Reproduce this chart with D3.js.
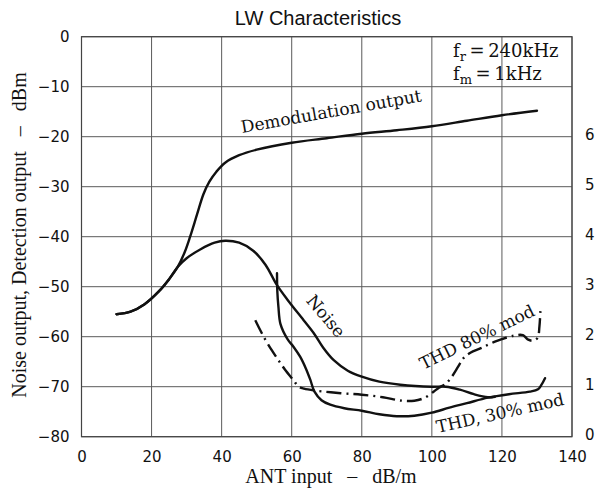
<!DOCTYPE html>
<html>
<head>
<meta charset="utf-8">
<script src="https://cdn.jsdelivr.net/npm/d3@7"></script>
<style>
  body { margin: 0; background: #fff; }
  #chart { width: 597px; height: 494px; }
</style>
</head>
<body>
<div id="chart"></div>
<script>
// tick values
const xTicks = [0, 20, 40, 60, 80, 100, 120, 140];
const yTicks = [0, -10, -20, -30, -40, -50, -60, -70, -80];
const thdTicks = [0, 1, 2, 3, 4, 5, 6];

// curves, [ANT input dB/m, output dBm]
const demodulation = [
  [10, -55.5], [14, -55], [18, -53.5], [22, -51], [25, -48.5], [27.5, -46],
  [29.5, -43], [31, -40], [33, -35.5], [34.8, -31.5], [36.5, -29], [38.5, -27],
  [41, -25.2], [45, -23.7], [50, -22.6], [60, -21.2], [70, -20.3], [80, -19.4],
  [90, -18.7], [100, -17.9], [110, -16.8], [120, -15.7], [130, -14.8]
];
const noise = [
  [10, -55.5], [14, -55], [18, -53.5], [22, -51], [25, -48.5], [27.5, -46],
  [30, -44.3], [34, -42.5], [38, -41.2], [41, -40.8], [45, -41.2], [49, -42.8],
  [52.5, -45.6], [55.8, -49.7], [59, -52.8], [63.4, -56.7], [66.5, -59.5],
  [69, -62.2], [72, -64.7], [76, -66.8], [80, -68], [85, -69], [91, -69.6],
  [100, -70], [104, -70], [108, -70.6], [112, -71.5], [116, -72.1], [118, -72]
];
const thd30 = [
  [55.8, -47.3], [55.9, -51], [56.2, -54], [56.8, -57.5], [58.8, -60.5],
  [60.5, -62], [62.4, -64], [64, -66.3], [65.3, -68.6], [66.5, -71],
  [68.5, -72.7], [71, -73.6], [75, -74.3], [80, -74.8], [85, -75.5],
  [90, -75.9], [95, -75.8], [100, -75.2], [105, -74.2], [110, -73.3],
  [116, -72.2], [122, -71.5], [128, -71], [130.3, -70.5], [131.3, -69.6],
  [132.3, -68.3]
];
const thd80 = [
  [49.6, -56.7], [52, -60], [54.3, -62.7], [56, -64.5], [58, -66.5],
  [60.5, -68.7], [62, -70], [63.5, -70.4], [67, -70.8], [74, -71.3],
  [80, -71.6], [86, -72.1], [91.5, -72.8], [95, -72.8], [98, -72.2],
  [100.5, -71], [102, -70.2], [104, -69.4], [105.5, -68.2], [107.5, -66],
  [109, -64.3], [111, -63.2], [114, -62.3], [118, -61], [123.4, -59.8],
  [126, -59.7], [127.5, -60.6], [129, -60.8], [130.2, -60.2], [130.7, -58],
  [131, -54.5]
];

draw(document.getElementById("chart"));

function draw(el) {
  const margin = { top: 36.7, right: 25, bottom: 57.3, left: 81.5 },
    width = 597 - margin.left - margin.right,
    height = 494 - margin.top - margin.bottom;

  const root = d3
    .select(el)
    .append("svg")
    .attr("width", 597)
    .attr("height", 494);

  const svg = root
    .append("g")
    .attr("transform", `translate(${margin.left},${margin.top})`);

  const x = d3.scaleLinear().domain([0, 140]).range([0, width]);
  const y = d3.scaleLinear().domain([-80, 0]).range([height, 0]);
  // right hand THD scale, 0 sits on -80 and 6 on -20
  const yRight = d3.scaleLinear().domain([0, 8]).range([height, 0]);

  // grid
  svg.append("g")
    .selectAll("line")
    .data(xTicks)
    .join("line")
    .attr("x1", (d) => x(d))
    .attr("x2", (d) => x(d))
    .attr("y1", 0)
    .attr("y2", height)
    .attr("stroke", "#5a5a5a")
    .attr("stroke-width", 1);
  svg.append("g")
    .selectAll("line")
    .data(yTicks)
    .join("line")
    .attr("x1", 0)
    .attr("x2", width)
    .attr("y1", (d) => y(d))
    .attr("y2", (d) => y(d))
    .attr("stroke", "#5a5a5a")
    .attr("stroke-width", 1);

  svg.append("rect")
    .attr("width", width)
    .attr("height", height)
    .attr("fill", "none")
    .attr("stroke", "#444")
    .attr("stroke-width", 1.2);

  // axes, labels only
  const gx = svg.append("g")
    .attr("transform", `translate(0,${height})`)
    .call(d3.axisBottom(x).tickValues(xTicks).tickSize(0).tickPadding(15));
  const gy = svg.append("g")
    .call(d3.axisLeft(y).tickValues(yTicks).tickSize(0).tickPadding(12));
  const gr = svg.append("g")
    .attr("transform", `translate(${width},0)`)
    .call(d3.axisRight(yRight).tickValues(thdTicks).tickFormat(d3.format("d")).tickSize(0).tickPadding(13));

  [gx, gy, gr].forEach((g) => {
    g.select(".domain").remove();
    g.selectAll("text")
      .attr("font-family", "DejaVu Sans")
      .attr("font-size", "15px")
      .attr("fill", "#111");
  });
  gr.selectAll("text").attr("dy", "0.2em");

  // curves
  const line = d3.line()
    .x((d) => x(d[0]))
    .y((d) => y(d[1]))
    .curve(d3.curveCatmullRom.alpha(0.5));

  [demodulation, noise, thd30].forEach((data) => {
    svg.append("path")
      .datum(data)
      .attr("d", line)
      .attr("fill", "none")
      .attr("stroke", "#111")
      .attr("stroke-width", 2.4)
      .attr("stroke-linecap", "round");
  });
  svg.append("path")
    .datum(thd80)
    .attr("d", line)
    .attr("fill", "none")
    .attr("stroke", "#111")
    .attr("stroke-width", 2.4)
    .attr("stroke-dasharray", "15 5 2 5");

  // title and axis titles
  root.append("text")
    .attr("x", 318)
    .attr("y", 25)
    .attr("text-anchor", "middle")
    .attr("font-family", "Liberation Sans")
    .attr("font-size", "20px")
    .attr("fill", "#111")
    .text("LW Characteristics");

  root.append("text")
    .attr("x", 331)
    .attr("y", 483)
    .attr("text-anchor", "middle")
    .attr("font-family", "Liberation Serif")
    .attr("font-size", "20px")
    .attr("fill", "#111")
    .text("ANT input \u2002\u2013\u2002 dB/m");

  root.append("text")
    .attr("transform", "translate(26,235) rotate(-90)")
    .attr("text-anchor", "middle")
    .attr("font-family", "Liberation Serif")
    .attr("font-size", "20px")
    .attr("fill", "#111")
    .text("Noise output, Detection output \u2002\u2013\u2002 dBm");

  // curve labels
  const note = (tx, ty, angle, anchor, label) =>
    root.append("text")
      .attr("transform", `translate(${tx},${ty}) rotate(${angle})`)
      .attr("text-anchor", anchor)
      .attr("dominant-baseline", anchor === "middle" ? "central" : "auto")
      .attr("font-family", "DejaVu Serif")
      .attr("font-size", "17px")
      .attr("fill", "#111")
      .text(label);

  note(242, 133, -10, "start", "Demodulation output");
  note(326, 316, 50, "middle", "Noise");
  note(477, 337, -26, "middle", "THD 80% mod");
  note(500, 413, -12.5, "middle", "THD, 30% mod");

  // conditions
  const cond = (ty, sub, rest) => {
    const t = root.append("text")
      .attr("x", 453)
      .attr("y", ty)
      .attr("font-family", "DejaVu Serif")
      .attr("font-size", "18px")
      .attr("fill", "#111");
    t.append("tspan").text("f");
    t.append("tspan").attr("dy", 4).attr("font-size", "13px").text(sub);
    t.append("tspan").attr("dy", -4).text(rest);
  };
  cond(56.7, "r", "\u2009=\u2009240kHz");
  cond(80, "m", "\u2009=\u20091kHz");
}
</script>
</body>
</html>
